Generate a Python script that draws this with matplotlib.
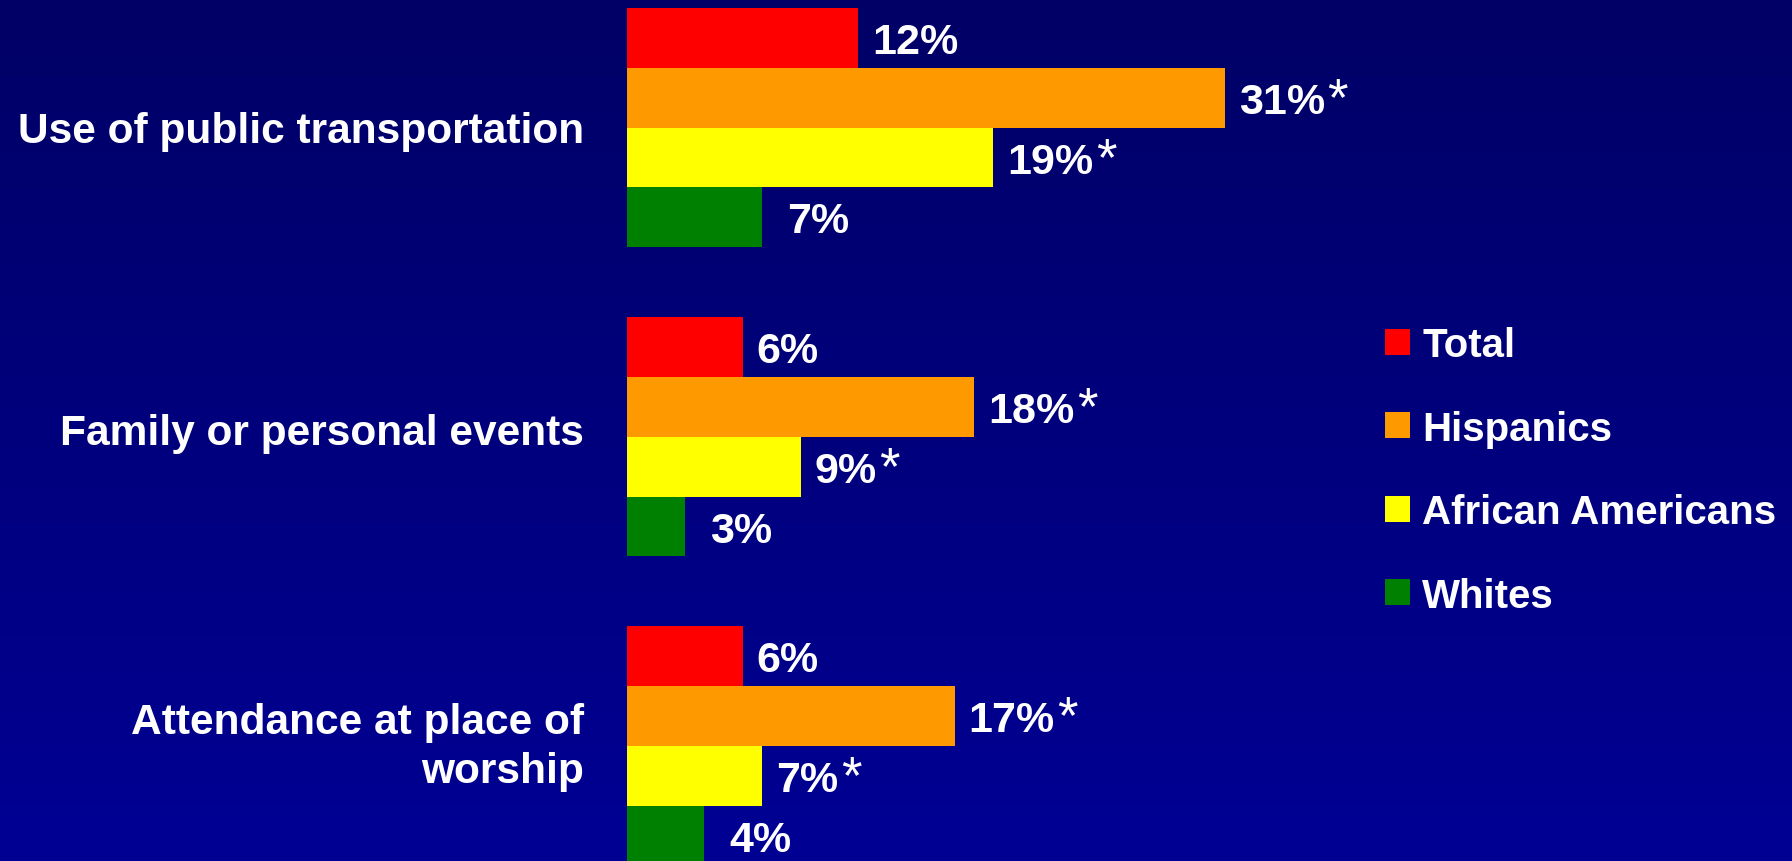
import numpy as np
import matplotlib
matplotlib.use("Agg")
import matplotlib.pyplot as plt
from matplotlib.colors import LinearSegmentedColormap
from matplotlib.patches import Patch

plt.rcParams['font.family'] = ['Liberation Sans', 'DejaVu Sans']

# --- data ---
categories = ["Use of public transportation",
              "Family or personal events",
              "Attendance at place of\nworship"]
groups = ["Total", "Hispanics", "African Americans", "Whites"]
total = [12, 6, 6]
hispanics = [31, 18, 17]
african_americans = [19, 9, 7]
whites = [7, 3, 4]
starred = [False, True, True, False]  # asterisk shown after the value

colors = ["#ff0000", "#ff9900", "#ffff00", "#008000"]
series = [total, hispanics, african_americans, whites]

W, H = 1792, 862
fig = plt.figure(figsize=(W / 100, H / 100), dpi=100)

# background gradient (dark navy to blue)
bg = fig.add_axes([0, 0, 1, 1], zorder=-1)
cmap = LinearSegmentedColormap.from_list("bg", ["#000066", "#000094"])
bg.imshow(np.linspace(0, 1, 256).reshape(-1, 1), aspect="auto", cmap=cmap,
          extent=[0, 1, 0, 1], origin="upper")
bg.axis("off")

# main axes: bars start at x=627 px
left_px = 627
px_per_pct = 19.28
ax = fig.add_axes([left_px / W, 0, 1 - left_px / W, 1])
ax.patch.set_alpha(0)
ax.set_xlim(0, (W - left_px) / px_per_pct)

bar_px = 59.8
pitch = 5.17  # group spacing in bar heights
top = -9 / bar_px
ax.set_ylim(top + H / bar_px, top)

base = np.arange(len(categories)) * pitch
for j, (vals, c) in enumerate(zip(series, colors)):
    y = base + j + 0.5
    ax.barh(y, vals, height=1.0, color=c, linewidth=0, zorder=2)
    pad = 18 if j == 3 else 10
    for v, yy in zip(vals, y):
        t = ax.annotate(f"{v}%", xy=(v, yy), xytext=(pad, -3),
                        textcoords="offset points", ha="left", va="center",
                        fontsize=31, fontweight="bold", color="white")
        if starred[j]:
            ax.annotate("*", xy=(1, 1), xycoords=t, xytext=(2, 5),
                        textcoords="offset points", ha="left", va="top",
                        fontsize=38, color="white")

# small vertical nudges so the labels sit where the slide has them
label_nudge = np.array([-0.02, -0.14, -0.14])
ax.set_yticks(base + 2 + label_nudge)
ax.set_yticklabels(categories, fontsize=30.6, fontweight="bold", color="white",
                   linespacing=1.3)
ax.tick_params(axis="y", length=0, pad=31)
ax.set_xticks([])
for s in ax.spines.values():
    s.set_visible(False)

handles = [Patch(facecolor=c, linewidth=0) for c in colors]
fig.legend(handles, groups, loc="upper left",
           bbox_to_anchor=(1385 / W, 1 - 327 / H),
           frameon=False, prop={"size": 29, "weight": "bold"},
           labelcolor="white", handlelength=0.62, handleheight=0.62,
           handletextpad=0.3, labelspacing=1.13, borderpad=0,
           borderaxespad=0)

fig.savefig("out.png", dpi=100)
